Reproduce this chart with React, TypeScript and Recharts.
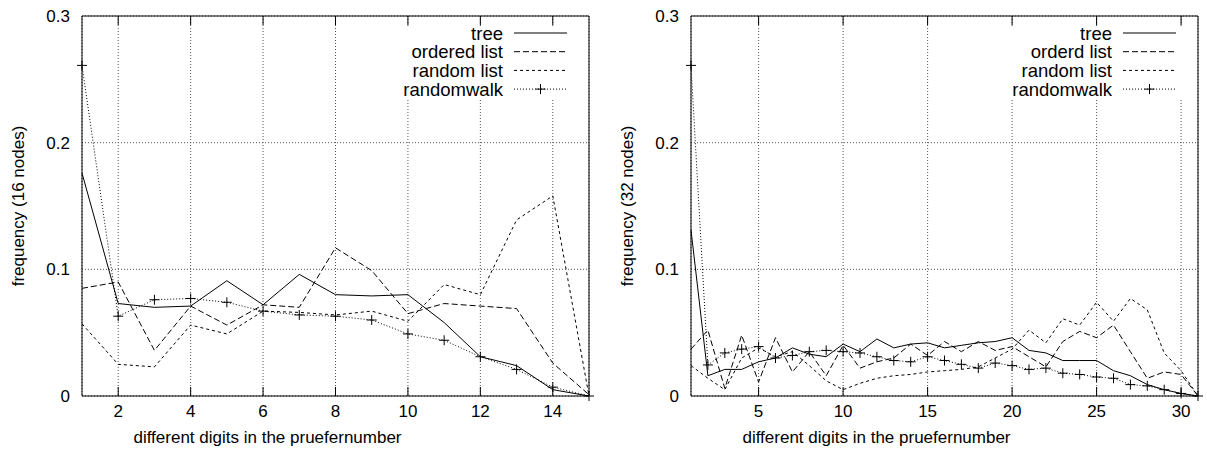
import React from 'react';
import { LineChart, Line, XAxis, YAxis, CartesianGrid } from 'recharts';

const FONT = '"Liberation Sans", Arial, Helvetica, sans-serif';
const FS = 17;
const KEY_FS = 18.5;

// ---------- left panel: 16 nodes ----------
const digits16 = [1, 2, 3, 4, 5, 6, 7, 8, 9, 10, 11, 12, 13, 14, 15];
const tree16 = [0.176, 0.073, 0.070, 0.071, 0.091, 0.072, 0.096, 0.080, 0.079, 0.080, 0.058, 0.031, 0.024, 0.005, 0.0];
const ordered16 = [0.085, 0.090, 0.036, 0.071, 0.056, 0.072, 0.070, 0.117, 0.099, 0.065, 0.073, 0.071, 0.069, 0.026, 0.001];
const randomList16 = [0.057, 0.025, 0.023, 0.056, 0.049, 0.067, 0.066, 0.064, 0.067, 0.059, 0.088, 0.080, 0.139, 0.158, 0.0];
const randomWalk16 = [0.261, 0.063, 0.076, 0.077, 0.074, 0.067, 0.064, 0.063, 0.060, 0.049, 0.044, 0.031, 0.021, 0.007, 0.0];
const xTicks16 = [2, 4, 6, 8, 10, 12, 14];
const names16 = ['tree', 'ordered list', 'random list', 'randomwalk'];

// ---------- right panel: 32 nodes ----------
const digits32 = [1, 2, 3, 4, 5, 6, 7, 8, 9, 10, 11, 12, 13, 14, 15, 16, 17, 18, 19, 20, 21, 22, 23, 24, 25, 26, 27, 28, 29, 30, 31];
const tree32 = [0.131, 0.016, 0.021, 0.021, 0.027, 0.030, 0.038, 0.033, 0.031, 0.041, 0.035, 0.045, 0.038, 0.041, 0.042, 0.038, 0.040, 0.042, 0.043, 0.046, 0.036, 0.034, 0.028, 0.028, 0.028, 0.020, 0.016, 0.009, 0.005, 0.002, 0.0];
const ordered32 = [0.037, 0.052, 0.006, 0.048, 0.011, 0.046, 0.019, 0.035, 0.016, 0.040, 0.022, 0.027, 0.030, 0.041, 0.032, 0.043, 0.035, 0.043, 0.036, 0.039, 0.031, 0.023, 0.043, 0.051, 0.046, 0.056, 0.035, 0.014, 0.019, 0.017, 0.0];
const randomList32 = [0.024, 0.014, 0.005, 0.030, 0.038, 0.031, 0.035, 0.024, 0.012, 0.005, 0.010, 0.014, 0.016, 0.017, 0.019, 0.020, 0.021, 0.023, 0.030, 0.037, 0.052, 0.042, 0.061, 0.056, 0.074, 0.059, 0.077, 0.068, 0.034, 0.020, 0.0];
const randomWalk32 = [0.261, 0.0245, 0.034, 0.037, 0.039, 0.030, 0.032, 0.035, 0.036, 0.035, 0.034, 0.031, 0.028, 0.027, 0.031, 0.028, 0.025, 0.022, 0.026, 0.024, 0.021, 0.022, 0.018, 0.017, 0.015, 0.014, 0.009, 0.008, 0.005, 0.002, 0.0];
const xTicks32 = [5, 10, 15, 20, 25, 30];
const names32 = ['tree', 'orderd list', 'random list', 'randomwalk'];

const yTicks = [0, 0.1, 0.2, 0.3];
const xTitle = 'different digits in the pruefernumber';

const seriesKeys = ['tree', 'ordered', 'randomList', 'randomWalk'];
const dashes: (string | undefined)[] = [undefined, '6 3', '3 3', '1 2'];

function buildRows(xs: number[], a: number[], b: number[], c: number[], d: number[]) {
  return xs.map((x, i) => ({ x, tree: a[i], ordered: b[i], randomList: c[i], randomWalk: d[i] }));
}

const rows16 = buildRows(digits16, tree16, ordered16, randomList16, randomWalk16);
const rows32 = buildRows(digits32, tree32, ordered32, randomList32, randomWalk32);

function PlusDot(props: any) {
  const { cx, cy } = props;
  if (cx == null || cy == null) return <g />;
  return <path d={`M${cx - 5},${cy}H${cx + 5}M${cx},${cy - 5}V${cy + 5}`} stroke="#000" strokeWidth={1} fill="none" />;
}

const NoTick = () => <g />;

type PanelProps = {
  left: number;
  width: number;
  right: number;
  rows: any[];
  xMax: number;
  xTicks: number[];
  names: string[];
  yTitle: string;
  keyLeft: number;
};

function Panel({ left, width, right, rows, xMax, xTicks, names, yTitle, keyLeft }: PanelProps) {
  const H = 474;
  const top = 16;
  const yAxisW = 82;
  const xAxisH = 30;
  const bottom = 48;
  const plotL = yAxisW;
  const plotR = width - right;
  const plotT = top;
  const plotB = H - bottom - xAxisH;
  const tickStyle = { fill: '#000', fontSize: FS, fontFamily: FONT };
  const rowY = (i: number) => 33 + i * 18.7;
  return (
    <div style={{ position: 'absolute', left, top: 0, width, height: H }}>
      <LineChart width={width} height={H} data={rows} margin={{ top, right, bottom, left: 0 }}>
        <CartesianGrid xAxisId="x" yAxisId="y" stroke="#555" strokeDasharray="1 2" />
        <XAxis
          xAxisId="x"
          dataKey="x"
          type="number"
          domain={[1, xMax]}
          ticks={xTicks}
          interval={0}
          height={xAxisH}
          tickLine={false}
          tickSize={0}
          tickMargin={9}
          axisLine={{ stroke: '#000' }}
          tick={tickStyle}
        />
        <XAxis xAxisId="xb" dataKey="x" type="number" domain={[1, xMax]} ticks={xTicks} interval={0} mirror tickSize={9} axisLine={false} tickLine={{ stroke: '#000' }} tick={NoTick} />
        <XAxis xAxisId="xt" orientation="top" dataKey="x" type="number" domain={[1, xMax]} ticks={xTicks} interval={0} mirror tickSize={9} axisLine={{ stroke: '#000' }} tickLine={{ stroke: '#000' }} tick={NoTick} />
        <YAxis
          yAxisId="y"
          type="number"
          domain={[0, 0.3]}
          ticks={yTicks}
          interval={0}
          width={yAxisW}
          tickLine={false}
          tickSize={0}
          tickMargin={12}
          axisLine={{ stroke: '#000' }}
          tick={tickStyle}
          tickFormatter={(v: number) => (v === 0 ? '0' : v.toFixed(1))}
        />
        <YAxis yAxisId="yl" type="number" domain={[0, 0.3]} ticks={yTicks} interval={0} mirror tickSize={9} axisLine={false} tickLine={{ stroke: '#000' }} tick={NoTick} />
        <YAxis yAxisId="yr" orientation="right" type="number" domain={[0, 0.3]} ticks={yTicks} interval={0} mirror tickSize={9} axisLine={{ stroke: '#000' }} tickLine={{ stroke: '#000' }} tick={NoTick} />
        {seriesKeys.map((k, i) => (
          <Line
            key={k}
            xAxisId="x"
            yAxisId="y"
            type="linear"
            dataKey={k}
            name={names[i]}
            stroke="#000"
            strokeWidth={1}
            strokeDasharray={dashes[i]}
            dot={k === 'randomWalk' ? <PlusDot /> : false}
            activeDot={false}
            isAnimationActive={false}
          />
        ))}
      </LineChart>
      <svg width={width} height={H} style={{ position: 'absolute', left: 0, top: 0, pointerEvents: 'none' }}>
        <rect x={keyLeft} y={plotT + 10} width={plotR - 1 - keyLeft} height={100 - plotT - 10} fill="#fff" />
        {names.map((n, i) => (
          <g key={n}>
            <text x={plotR - 86} y={rowY(i)} textAnchor="end" dominantBaseline="central" fontFamily={FONT} fontSize={KEY_FS} fill="#000">
              {n}
            </text>
            <line x1={plotR - 75} x2={plotR - 22} y1={rowY(i)} y2={rowY(i)} stroke="#000" strokeWidth={1} strokeDasharray={dashes[i]} />
            {i === 3 ? <PlusDot cx={(2 * plotR - 97) / 2} cy={rowY(i)} /> : null}
          </g>
        ))}
        <text x={(plotL + plotR) / 2 - 68} y={437} textAnchor="middle" dominantBaseline="central" fontFamily={FONT} fontSize={FS} fill="#000">
          {xTitle}
        </text>
        <text
          x={18}
          y={(plotT + plotB) / 2}
          textAnchor="middle"
          dominantBaseline="central"
          fontFamily={FONT}
          fontSize={FS}
          fill="#000"
          transform={`rotate(-90 18 ${(plotT + plotB) / 2})`}
        >
          {yTitle}
        </text>
      </svg>
    </div>
  );
}

export default function App() {
  return (
    <div style={{ position: 'absolute', left: 0, top: 0, width: 1207, height: 474, background: '#fff', overflow: 'hidden' }}>
      <Panel left={0} width={600} right={11} rows={rows16} xMax={15} xTicks={xTicks16} names={names16} yTitle="frequency (16 nodes)" keyLeft={392} />
      <Panel left={609} width={598} right={9} rows={rows32} xMax={31} xTicks={xTicks32} names={names32} yTitle="frequency (32 nodes)" keyLeft={392} />
    </div>
  );
}
